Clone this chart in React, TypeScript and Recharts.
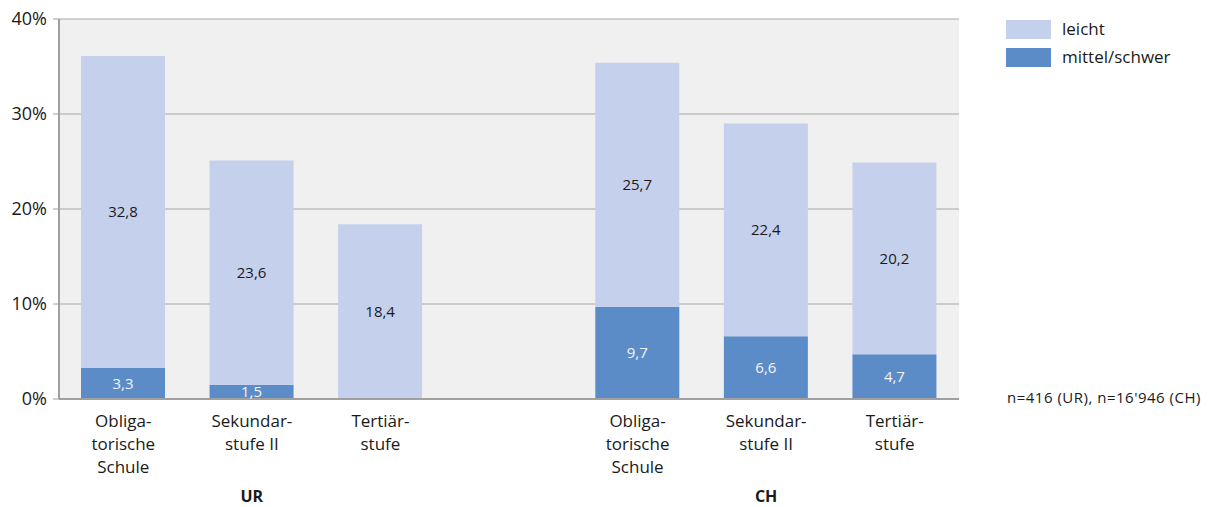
import { Bar, BarChart, CartesianGrid, LabelList, XAxis, YAxis } from "recharts";

const categories = ["ur-obl", "ur-sek", "ur-ter", "gap", "ch-obl", "ch-sek", "ch-ter"];
const tickLines: string[][] = [
  ["Obliga-", "torische", "Schule"],
  ["Sekundar-", "stufe II"],
  ["Tertiär-", "stufe"],
  [],
  ["Obliga-", "torische", "Schule"],
  ["Sekundar-", "stufe II"],
  ["Tertiär-", "stufe"],
];
const groupLabels = ["", "UR", "", "", "", "CH", ""];
const mittelSchwer = [3.3, 1.5, 0, 0, 9.7, 6.6, 4.7];
const leicht = [32.8, 23.6, 18.4, 0, 25.7, 22.4, 20.2];
const yTicks = [0, 10, 20, 30, 40];

const data = categories.map((key, i) => ({
  key,
  mittel: mittelSchwer[i],
  leicht: leicht[i],
}));

const FONT = "'Open Sans', sans-serif";
const LIGHT = "#c5d0ed";
const DARK = "#5b8cc8";

const fmt = (v: unknown) => {
  const n = Number(v);
  return n ? n.toFixed(1).replace(".", ",") : "";
};

function CategoryTick(props: any) {
  const { x, y, index } = props;
  const lines = tickLines[index] ?? [];
  return (
    <g>
      {lines.map((line, i) => (
        <text key={i} x={x} y={y + 20 + i * 23} textAnchor="middle" fontSize={17} fill="#1a1a1a" fontFamily={FONT}>
          {line}
        </text>
      ))}
      {groupLabels[index] && (
        <text x={x} y={y + 95} textAnchor="middle" fontSize={16} fontWeight="bold" fill="#1a1a1a" fontFamily={FONT}>
          {groupLabels[index]}
        </text>
      )}
    </g>
  );
}

export default function App(): JSX.Element {
  return (
    <div style={{ position: "absolute", left: 0, top: 0, width: 1212, height: 507, background: "#fff" }}>
      <BarChart width={1212} height={507} data={data} margin={{ top: 19, right: 253, left: 1, bottom: 0 }}>
        <CartesianGrid vertical={false} stroke="#a6a6a6" fill="#f0f0f0" />
        <XAxis
          dataKey="key"
          tickLine={false}
          axisLine={{ stroke: "#a0a0a0", strokeWidth: 2 }}
          tick={<CategoryTick />}
          interval={0}
          height={108}
        />
        <YAxis
          domain={[0, 40]}
          ticks={yTicks}
          width={58}
          tickFormatter={(v) => `${v}%`}
          tick={{ fill: "#1a1a1a", fontSize: 18, fontFamily: FONT, dx: -4 }}
          tickSize={6}
          tickLine={{ stroke: "#a0a0a0" }}
          axisLine={{ stroke: "#a0a0a0", strokeWidth: 2 }}
        />
        <YAxis
          yAxisId="right"
          orientation="right"
          domain={[0, 40]}
          width={0}
          tick={false}
          tickLine={false}
          axisLine={{ stroke: "#a0a0a0", strokeWidth: 1.5 }}
        />
        <Bar dataKey="mittel" stackId="a" fill={DARK} barSize={84} isAnimationActive={false} name="mittel/schwer">
          <LabelList dataKey="mittel" position="center" formatter={fmt} fill="#f4f4f4" fontSize={15} fontFamily={FONT} />
        </Bar>
        <Bar dataKey="leicht" stackId="a" fill={LIGHT} barSize={84} isAnimationActive={false} name="leicht">
          <LabelList dataKey="leicht" position="center" formatter={fmt} fill="#1a1a1a" fontSize={15} fontFamily={FONT} />
        </Bar>
      </BarChart>
      <svg width={1212} height={507} style={{ position: "absolute", left: 0, top: 0, pointerEvents: "none" }}>
        <rect x={1006} y={20} width={45} height={19} fill={LIGHT} />
        <text x={1062} y={35} fontSize={17} fill="#1a1a1a" fontFamily={FONT}>leicht</text>
        <rect x={1006} y={48} width={45} height={19} fill={DARK} />
        <text x={1062} y={63} fontSize={17} fill="#1a1a1a" fontFamily={FONT}>mittel/schwer</text>
        <text x={1007} y={403} fontSize={15} letterSpacing={0.5} fill="#1a1a1a" fontFamily={FONT}>
          n=416 (UR), n=16'946 (CH)
        </text>
      </svg>
    </div>
  );
}
